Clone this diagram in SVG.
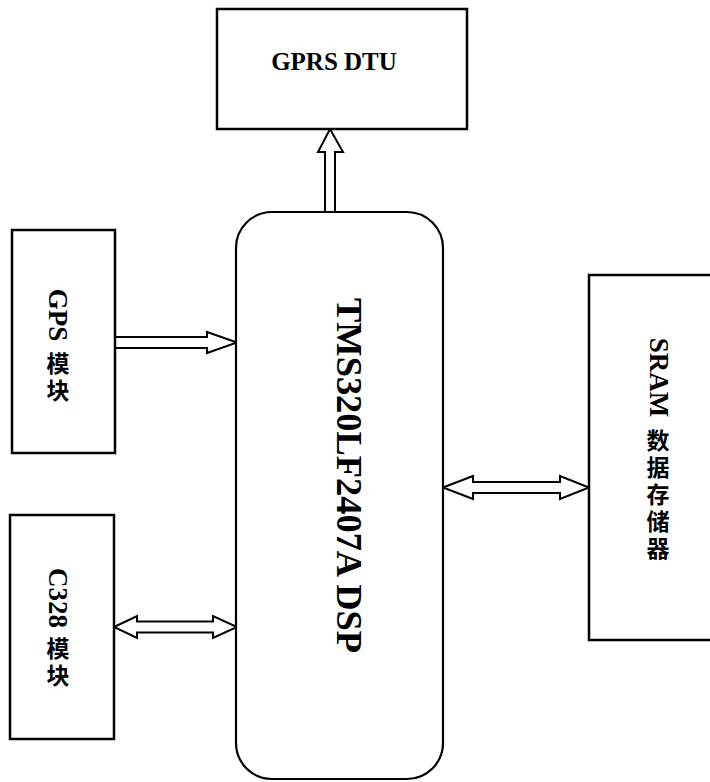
<svg xmlns="http://www.w3.org/2000/svg" width="710" height="782" viewBox="0 0 710 782">
<style>
.box{fill:#fff;stroke:#000;stroke-width:2.5}
.arr{fill:#fff;stroke:#000;stroke-width:2;stroke-linejoin:miter}
.lat{font-family:"Liberation Serif","Times New Roman",serif;font-weight:bold;fill:#000}
.cjk{font-family:"Noto Sans CJK SC","Noto Sans",sans-serif;font-weight:bold;font-size:23px;fill:#000;text-anchor:middle}
</style>
<rect width="710" height="782" fill="#fff"/>
<g id="connectors">
<polygon class="arr" points="325,212 325,152 318,152 330,129 343,152 335,152 335,212"/>
<polygon class="arr" points="115,337 207,337 207,332 237,342.5 207,353 207,348 115,348"/>
<polygon class="arr" points="114,627 137,616 137,621.5 213,621.5 213,616 237,627 213,638 213,632.5 137,632.5 137,638"/>
<polygon class="arr" points="443,487.5 473,476 473,482 560,482 560,476 589,487.5 560,499 560,493 473,493 473,499"/>
</g>
<g id="gprs">
<rect class="box" x="217" y="9" width="250" height="120"/>
<text class="lat" x="334" y="70" font-size="25" text-anchor="middle">GPRS DTU</text>
</g>
<g id="dsp">
<rect class="box" x="236" y="212" width="207" height="567" rx="36" ry="36" style="stroke-width:2.2"/>
<text class="lat" font-size="35" text-anchor="middle" textLength="355" lengthAdjust="spacingAndGlyphs" transform="translate(337,475.5) rotate(90)">TMS320LF2407A DSP</text>
</g>
<g id="gps">
<rect class="box" x="12" y="230" width="103" height="223"/>
<text class="lat" font-size="27" text-anchor="middle" transform="translate(49,315) rotate(90)">GPS</text>
<text class="cjk" x="58" y="372">模</text>
<text class="cjk" x="58" y="399">块</text>
</g>
<g id="c328">
<rect class="box" x="10" y="515" width="104" height="224"/>
<text class="lat" font-size="27" text-anchor="middle" transform="translate(49,598) rotate(90)">C328</text>
<text class="cjk" x="58" y="657">模</text>
<text class="cjk" x="58" y="684">块</text>
</g>
<g id="sram">
<rect class="box" x="589" y="275" width="130" height="365"/>
<text class="lat" font-size="27" text-anchor="middle" transform="translate(650,377.5) rotate(90)">SRAM</text>
<text class="cjk" x="658" y="449">数</text>
<text class="cjk" x="658" y="476">据</text>
<text class="cjk" x="658" y="503">存</text>
<text class="cjk" x="658" y="530">储</text>
<text class="cjk" x="658" y="557">器</text>
</g>
</svg>
